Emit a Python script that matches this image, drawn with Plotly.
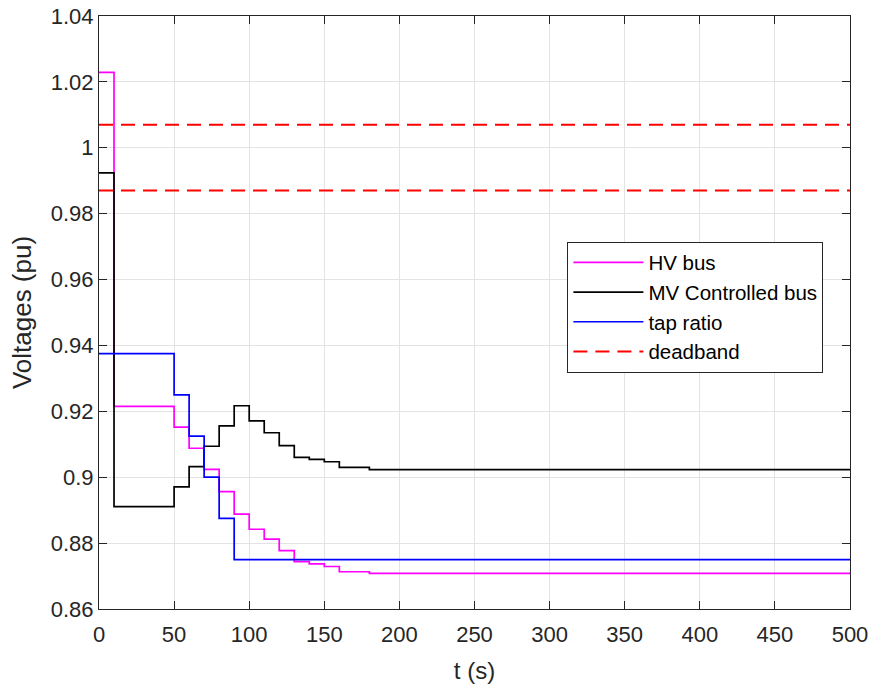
import plotly.graph_objects as go

# step times (s) for bus voltages
t_bus = [0, 10, 50, 60, 70, 80, 90, 100, 110, 120, 130, 140, 150, 160, 180, 500]
hv_bus = [1.0229, 0.9215, 0.9152, 0.9088, 0.9024, 0.8956, 0.8888, 0.8842,
          0.8812, 0.8777, 0.8744, 0.8737, 0.8729, 0.8713, 0.8708, 0.8708]
mv_bus = [0.9924, 0.8911, 0.8971, 0.9032, 0.9094, 0.9156, 0.9217, 0.9171,
          0.9135, 0.9096, 0.9060, 0.9054, 0.9047, 0.9030, 0.9023, 0.9023]

t_tap = [0, 50, 60, 70, 80, 90, 500]
tap_ratio = [0.9375, 0.925, 0.9125, 0.9, 0.8875, 0.875, 0.875]

t_band = [0, 500]
band_upper = [1.007, 1.007]
band_lower = [0.987, 0.987]

x_ticks = [0, 50, 100, 150, 200, 250, 300, 350, 400, 450, 500]
y_ticks = [0.86, 0.88, 0.9, 0.92, 0.94, 0.96, 0.98, 1.0, 1.02, 1.04]
y_labels = ["0.86", "0.88", "0.9", "0.92", "0.94", "0.96", "0.98", "1", "1.02", "1.04"]

FONT = "Liberation Sans, Arial, sans-serif"
TXT = "#262626"

fig = go.Figure()
fig.add_trace(go.Scatter(x=t_bus, y=hv_bus, mode="lines", line_shape="hv",
                         line=dict(color="#ff00ff", width=1.7), name="HV bus"))
fig.add_trace(go.Scatter(x=t_bus, y=mv_bus, mode="lines", line_shape="hv",
                         line=dict(color="#000000", width=1.7), name="MV Controlled bus"))
fig.add_trace(go.Scatter(x=t_tap, y=tap_ratio, mode="lines", line_shape="hv",
                         line=dict(color="#0000ff", width=1.7), name="tap ratio"))
fig.add_trace(go.Scatter(x=t_band, y=band_upper, mode="lines",
                         line=dict(color="#ff0000", width=2, dash="14px,8px"), name="deadband"))
fig.add_trace(go.Scatter(x=t_band, y=band_lower, mode="lines",
                         line=dict(color="#ff0000", width=2, dash="14px,8px"), showlegend=False))

axis_common = dict(
    showgrid=True, gridcolor="#e3e3e3", gridwidth=1,
    showline=True, linecolor=TXT, linewidth=1, mirror="ticks",
    ticks="inside", ticklen=8, tickcolor=TXT, tickwidth=1,
    tickfont=dict(family=FONT, size=22, color=TXT),
    zeroline=False, automargin=False, ticklabeloverflow="allow",
)

fig.update_xaxes(range=[0, 500], tickvals=x_ticks, ticklabelstandoff=6,
                 title=dict(text="t (s)", font=dict(family=FONT, size=24, color=TXT), standoff=15),
                 **axis_common)
fig.update_yaxes(range=[0.86, 1.04], tickvals=y_ticks, ticktext=y_labels,
                 title=dict(text="Voltages (pu)", font=dict(family=FONT, size=26, color=TXT), standoff=11),
                 **axis_common)

fig.update_layout(
    width=871, height=686,
    margin=dict(l=99, r=21, t=16, b=77),
    plot_bgcolor="white", paper_bgcolor="white",
    font=dict(family=FONT, color=TXT),
    legend=dict(x=0.6237, y=0.6195, xanchor="left", yanchor="top",
                bgcolor="white", bordercolor=TXT, borderwidth=1,
                font=dict(family=FONT, size=20.5, color="#000000"),
                itemwidth=70, tracegroupgap=0),
)

# drop the default page margin so the figure fills the window exactly
fig.write_html("out.html", config={"displayModeBar": False}, post_script=(
    "document.body.style.margin='0';"
    "document.body.style.overflow='hidden';"
    "document.documentElement.style.overflow='hidden';"
))
